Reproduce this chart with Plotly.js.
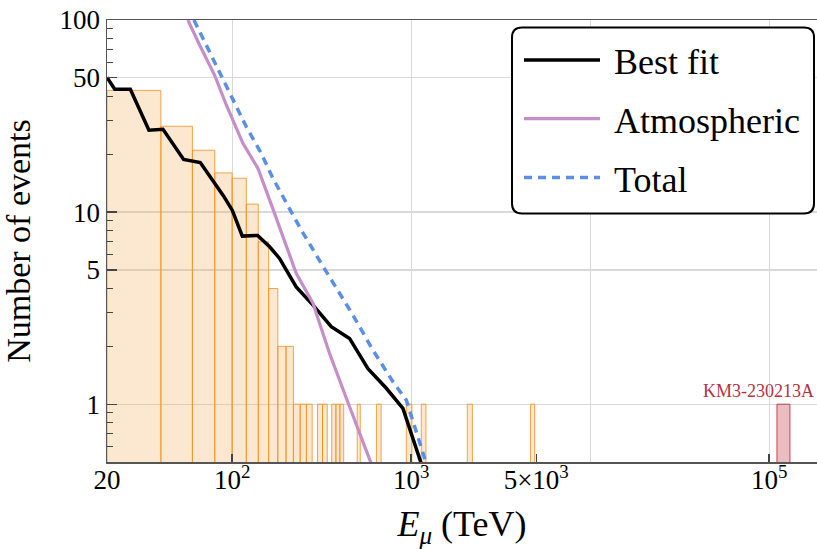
<!DOCTYPE html>
<html>
<head>
<meta charset="utf-8">
<script src="https://cdn.plot.ly/plotly-3.0.1.min.js"></script>
<style>html,body{margin:0;padding:0;background:#fff;}</style>
</head>
<body>
<div id="chart" style="width:817px;height:549px;"></div>
<script>
// ---- Data ----
// Observed event histogram: bin edges (TeV) and counts
const binLo    = [20, 40, 60, 80, 100, 120, 140, 160, 180, 200, 220, 240, 260, 300, 320, 360, 380, 400, 500, 640, 940, 1140, 2060, 4650];
const binHi    = [40, 60, 80, 100, 120, 140, 160, 180, 200, 220, 240, 260, 280, 320, 340, 380, 400, 420, 520, 680, 1010, 1210, 2200, 4900];
const binCount = [43, 28, 21, 16, 15, 11, 7, 4, 2, 2, 1, 1, 1, 1, 1, 1, 1, 1, 1, 1, 1, 1, 1, 1];

// KM3-230213A event bin
const kmLo = [110600];
const kmHi = [130700];
const kmCount = [1];
const kmLabel = "KM3-230213A";

// Best fit curve
const bestE = [20, 22.1, 27.0, 34.3, 41.1, 53.6, 66.4, 79.8, 89.7, 100.3, 114, 138.8, 162, 184, 228, 283, 358, 453, 574, 727, 900, 1140];
const bestN = [50.3, 43.6, 43.6, 26.7, 27.0, 18.8, 18.1, 14.2, 12.1, 10.2, 7.5, 7.56, 6.6, 5.74, 4.08, 3.28, 2.53, 2.2, 1.53, 1.21, 0.95, 0.49];

// Atmospheric curve
const atmE = [56.6, 65.8, 79.8, 92.8, 114.9, 139.3, 169, 228, 283, 350, 453, 599];
const atmN = [100, 74.1, 51.7, 36.1, 22.8, 16.9, 10.4, 4.8, 3.35, 1.84, 0.97, 0.49];

// Total curve
const totE = [61.2, 71.8, 85.2, 101, 120, 145.6, 169, 209.5, 243.6, 315, 390, 473, 612, 791, 940, 1216];
const totN = [100, 74.1, 52.8, 38.3, 27.8, 20.2, 15.0, 10.4, 8.06, 5.4, 3.92, 2.91, 1.91, 1.31, 1.05, 0.49];

// Series names
const seriesNames = ["Best fit", "Atmospheric", "Total"];

// Axis ticks
const xTickVals = [20, 100, 1000, 5000, 100000];
const xTickText = ["20", "10<sup>2</sup>", "10<sup>3</sup>", "5×10<sup>3</sup>", "10<sup>5</sup>"];
const xGridVals = [100, 1000, 10000, 100000];
const yTickVals = [1, 5, 10, 50, 100];
const yTickText = ["1", "5", "10", "50", "100"];
const yMinorVals = [0.6, 0.7, 0.8, 0.9, 2, 3, 4, 6, 7, 8, 9, 20, 30, 40, 60, 70, 80, 90];

// ---- Build bar outlines from the histogram data ----
function barPolys(lo, hi, cnt, base) {
  const xs = [], ys = [];
  for (let i = 0; i < lo.length; i++) {
    xs.push(lo[i], lo[i], hi[i], hi[i], lo[i], null);
    ys.push(base, cnt[i], cnt[i], base, base, null);
  }
  return {x: xs, y: ys};
}
const hist = barPolys(binLo, binHi, binCount, 0.3);
const km = barPolys(kmLo, kmHi, kmCount, 0.3);

const serif = "'Liberation Serif', 'Times New Roman', serif";
const pad = "\u00a0";

const traces = [
  {x: hist.x, y: hist.y, type: 'scatter', mode: 'lines', fill: 'toself',
   fillcolor: 'rgba(245,175,100,0.3)', line: {color: 'rgba(242,150,40,0.85)', width: 1},
   showlegend: false, hoverinfo: 'skip'},
  {x: km.x, y: km.y, type: 'scatter', mode: 'lines', fill: 'toself',
   fillcolor: 'rgba(200,90,100,0.4)', line: {color: 'rgba(185,60,70,0.9)', width: 1},
   showlegend: false, hoverinfo: 'skip'},
  {x: bestE, y: bestN, type: 'scatter', mode: 'lines', name: pad + seriesNames[0],
   line: {color: '#000000', width: 3.5}, legendgroup: 'a'},
  {x: atmE, y: atmN, type: 'scatter', mode: 'lines', name: pad + seriesNames[1],
   line: {color: '#c68dc9', width: 3.2}, legendgroup: 'b'},
  {x: totE, y: totN, type: 'scatter', mode: 'lines', name: pad + seriesNames[2],
   line: {color: '#5b8fe6', width: 3.5, dash: '8px,6px'}, legendgroup: 'c'}
];

// legend box (rounded) in paper coords
const W = 710, H = 442;
const bx0 = (512 - 107) / W, bx1 = (814 - 107) / W;
const by1 = (462 - 27.5) / H, by0 = (462 - 213.5) / H;
const rx = 10 / W, ry = 10 / H;
const boxPath = `M${bx0 + rx},${by1} L${bx1 - rx},${by1} Q${bx1},${by1} ${bx1},${by1 - ry} ` +
  `L${bx1},${by0 + ry} Q${bx1},${by0} ${bx1 - rx},${by0} L${bx0 + rx},${by0} Q${bx0},${by0} ${bx0},${by0 + ry} ` +
  `L${bx0},${by1 - ry} Q${bx0},${by1} ${bx0 + rx},${by1} Z`;

const layout = {
  width: 817, height: 549,
  margin: {l: 107, r: 0, t: 20, b: 87, pad: 0},
  paper_bgcolor: '#ffffff', plot_bgcolor: '#ffffff',
  font: {family: serif, color: '#000000'},
  showlegend: true,
  legend: {
    x: (519 - 107) / W, y: (462 - 30) / H, xanchor: 'left', yanchor: 'top',
    bgcolor: 'rgba(0,0,0,0)', borderwidth: 0,
    font: {family: serif, size: 36, color: '#000000'},
    itemwidth: 76, tracegroupgap: 9
  },
  xaxis: {
    type: 'log', range: [Math.log10(20), 5.2675],
    tickmode: 'array', tickvals: xTickVals, ticktext: xTickText,
    ticks: 'inside', ticklen: 8, tickwidth: 1.3, tickcolor: '#444444',
    ticklabelstandoff: -7,
    showgrid: false, zeroline: false,
    showline: true, linecolor: '#555555', linewidth: 1.5, mirror: true,
    tickfont: {family: serif, size: 27, color: '#000000'},
    minor: {tickmode: 'array', tickvals: xGridVals, showgrid: true, gridcolor: '#d9d9d9', gridwidth: 1.2, ticks: ''},
    title: {text: '<i>E</i><sub><i>μ</i></sub> (TeV)', standoff: 18, font: {family: serif, size: 36, color: '#000000'}}
  },
  yaxis: {
    type: 'log', range: [Math.log10(0.5), 2],
    tickmode: 'array', tickvals: yTickVals, ticktext: yTickText,
    ticks: 'inside', ticklen: 10, tickwidth: 1.3, tickcolor: '#444444',
    showgrid: true, gridcolor: '#d9d9d9', gridwidth: 1.2, zeroline: false,
    showline: true, linecolor: '#555555', linewidth: 1.5, mirror: false,
    tickfont: {family: serif, size: 27, color: '#000000'},
    minor: {tickmode: 'array', tickvals: yMinorVals, ticks: 'inside', ticklen: 6, tickwidth: 1, tickcolor: '#444444', showgrid: false},
    title: {text: 'Number of events', font: {family: serif, size: 34, color: '#000000'}}
  },
  shapes: [
    {type: 'path', xref: 'paper', yref: 'paper', path: boxPath, fillcolor: '#ffffff',
     line: {color: '#000000', width: 2}, layer: 'above'}
  ],
  annotations: [
    {xref: 'paper', yref: 'y', x: 1, y: 0, xanchor: 'right', yanchor: 'bottom', yshift: 1, xshift: -1,
     text: kmLabel, showarrow: false, font: {family: serif, size: 18, color: '#b5323f'}}
  ]
};

Plotly.newPlot('chart', traces, layout, {displayModeBar: false, staticPlot: true});
</script>
</body>
</html>
